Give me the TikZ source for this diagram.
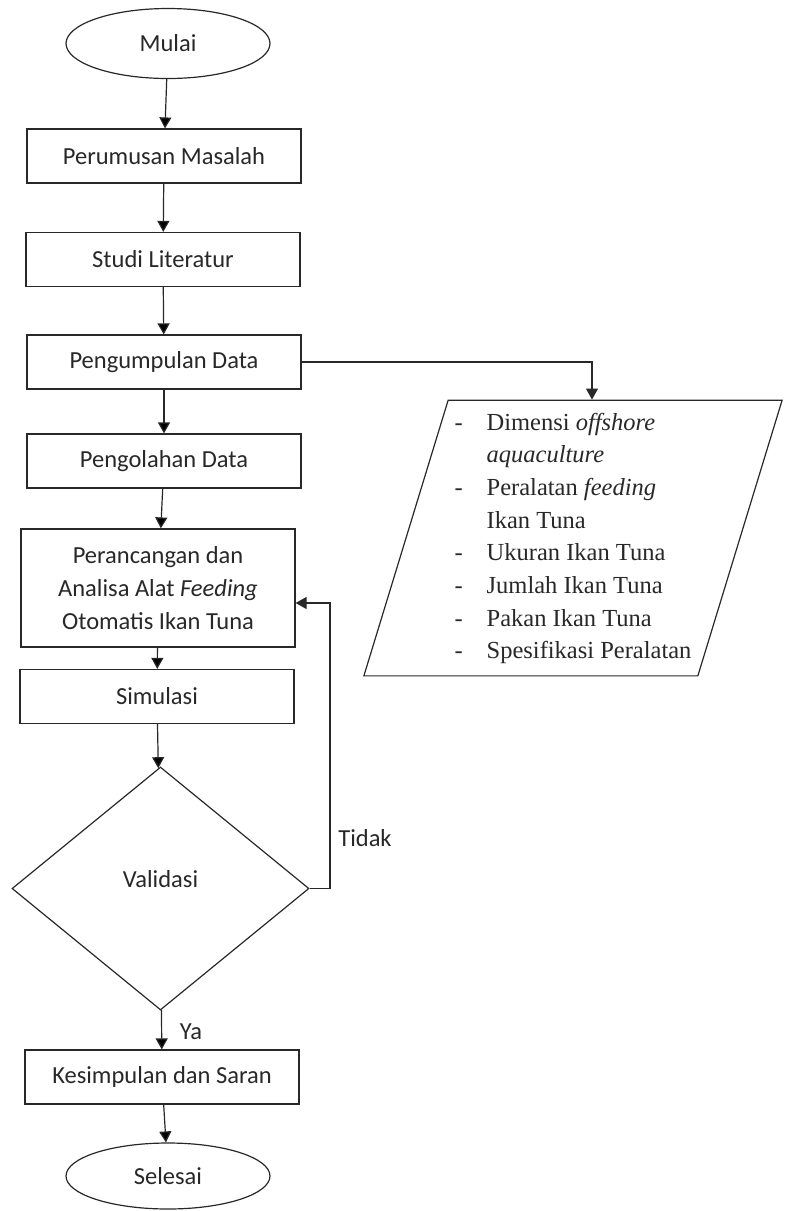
\documentclass[tikz,border=0pt]{standalone}
\usepackage{fontspec}
\setmainfont{Carlito}
\newfontfamily\serif{Liberation Serif}
\usetikzlibrary{arrows.meta,shapes.geometric}
\definecolor{garis}{RGB}{40,40,40}
\begin{document}
\begin{tikzpicture}[x=1pt,y=-1pt,
  every node/.style={font=\fontsize{24.5}{33}\selectfont,text=garis,inner sep=0pt},
  kotak/.style={draw=garis,line width=1.2pt,minimum width=274pt,minimum height=54pt},
  oval/.style={draw=garis,line width=1.2pt,ellipse,minimum width=204pt,minimum height=70pt},
  panah/.style={-{Stealth[inset=0pt,length=11pt,width=12pt]},draw=garis,line width=1.2pt}]
  \useasboundingbox (0,0) rectangle (787,1211);
  \node[oval] (mulai) at (168,43.5) {Mulai};
  \node[kotak] (rumus) at (164,156) {Perumusan Masalah};
  \node[kotak] (studi) at (163,259.5) {Studi Literatur};
  \node[kotak] (kumpul) at (164,362) {Pengumpulan Data};
  \node[kotak] (olah) at (164,461) {Pengolahan Data};
  \node[kotak,minimum height=118pt,align=center] (rancang) at (158,588) {Perancangan dan\\Analisa Alat \textit{Feeding}\\Otomatis Ikan Tuna};
  \node[kotak] (simulasi) at (157,696.5) {Simulasi};
  \node[draw=garis,line width=1.2pt,diamond,minimum width=297pt,minimum height=243pt] (validasi) at (160.5,888.5) {\raisebox{1.5pt}[0pt][0pt]{Validasi}};
  \node[kotak] (simpul) at (162,1077) {Kesimpulan dan Saran};
  \node[oval,minimum height=66pt] (selesai) at (168,1176) {Selesai};
  \node[draw=garis,line width=1.2pt,trapezium,trapezium left angle=73,trapezium right angle=107,
    minimum width=420pt,minimum height=274pt,font=\serif\fontsize{24.5}{32.7}\selectfont] (data) at (573,538)
    {\begin{tabular}{@{}l@{\hspace{24pt}}l@{}}
      - & Dimensi \textit{offshore}\\
        & \textit{aquaculture}\\
      - & Peralatan \textit{feeding}\\
        & Ikan Tuna\\
      - & Ukuran Ikan Tuna\\
      - & Jumlah Ikan Tuna\\
      - & Pakan Ikan Tuna\\
      - & Spesifikasi Peralatan
    \end{tabular}\hspace{10pt}};
  \node (tidak) at (365,838) {Tidak};
  \node (ya) at (191,1032) {Ya};
  \coordinate (belok) at (330,603);
  \coordinate (turun) at (592,0);

  \path[panah] (mulai) edge (rumus);
  \path[panah] (rumus) edge (studi);
  \path[panah] (studi) edge (kumpul);
  \path[panah] (kumpul) edge (olah);
  \path[panah] (olah) edge (rancang);
  \path[panah] (rancang) edge (simulasi);
  \path[panah] (simulasi) edge (validasi);
  \path[panah] (validasi) edge (simpul);
  \path[panah] (simpul) edge (selesai);
  \draw[panah] (validasi.east) -| (belok) -- (rancang.east |- belok);
  \draw[panah] (kumpul.east) -| (turun |- data.north);
\end{tikzpicture}
\end{document}
